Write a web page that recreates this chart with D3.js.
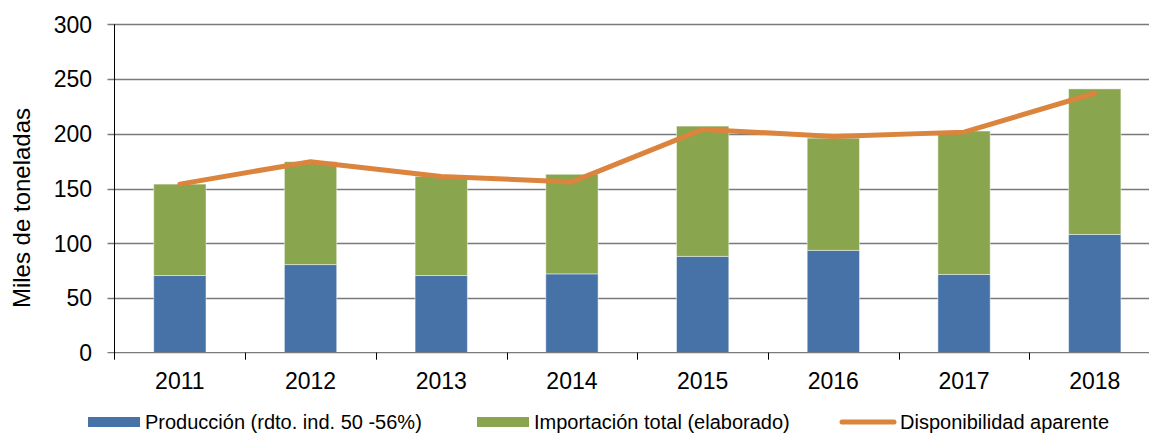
<!DOCTYPE html>
<html>
<head>
<meta charset="utf-8">
<script src="https://cdn.jsdelivr.net/npm/d3@7"></script>
<style>
	body { margin: 0; background: #fff; }
	text { font-family: "Liberation Sans", Arial, sans-serif; fill: #000; }
</style>
</head>
<body>
<svg id="chart" width="1149" height="435"></svg>
<script>
// 年（カテゴリ）
var years = ["2011", "2012", "2013", "2014", "2015", "2016", "2017", "2018"];
// 生産
var produccion = [70.5, 80.5, 70.5, 72, 88, 93.5, 71.5, 108];
// 輸入
var importacion = [83.5, 94, 90.5, 91, 119, 102.5, 131, 133];
// 見かけの供給量
var disponibilidad = [154, 174.5, 161, 156, 204, 197.5, 201.5, 237];
// 目盛り
var yTicks = [0, 50, 100, 150, 200, 250, 300];
var seriesNames = ["Producción (rdto. ind. 50 -56%)", "Importación total (elaborado)", "Disponibilidad aparente"];
var colors = ["#4672A8", "#89A54E", "#DB843D"];

var svg = d3.select("#chart");
var plotLeft = 114.5, plotTop = 24.3, plotW = 1045.6, plotH = 328.4;

var x = d3.scaleBand().domain(years).range([plotLeft, plotLeft + plotW]).paddingInner(0.6).paddingOuter(0.3);
var xb = d3.scaleBand().domain(years).range([plotLeft, plotLeft + plotW]);
var y = d3.scaleLinear().domain([0, 300]).range([plotTop + plotH, plotTop]);

// 横グリッド線
svg.append("g")
	.selectAll("line")
	.data(yTicks.slice(1))
	.enter()
	.append("line")
	.attr("x1", plotLeft - 7)
	.attr("x2", plotLeft + plotW)
	.attr("y1", function(d){ return Math.round(y(d)) + 0.5; })
	.attr("y2", function(d){ return Math.round(y(d)) + 0.5; })
	.attr("stroke", "#7a7a7a")
	.attr("stroke-width", 1.3);

// 積み上げ棒
var stackData = years.map(function(yr, i){
	return { year: yr, p: produccion[i], m: importacion[i] };
});
var stack = d3.stack().keys(["p", "m"])(stackData);

svg.append("g")
	.selectAll("g")
	.data(stack)
	.enter()
	.append("g")
	.attr("fill", function(d, i){ return colors[i]; })
	.selectAll("rect")
	.data(function(d){ return d; })
	.enter()
	.append("rect")
	.attr("x", function(d){ return x(d.data.year); })
	.attr("width", x.bandwidth())
	.attr("y", function(d){ return y(d[1]); })
	.attr("height", function(d){ return y(d[0]) - y(d[1]); })
	.attr("stroke", "rgba(255,255,255,0.45)")
	.attr("stroke-width", 1);

// 線グラフ
var line = d3.line()
	.x(function(d, i){ return x(years[i]) + x.bandwidth() / 2; })
	.y(function(d){ return y(d); });
svg.append("path")
	.datum(disponibilidad)
	.attr("d", line)
	.attr("fill", "none")
	.attr("stroke", colors[2])
	.attr("stroke-width", 5)
	.attr("stroke-linecap", "round")
	.attr("stroke-linejoin", "round");

// 軸線
svg.append("line")
	.attr("x1", plotLeft - 7).attr("x2", plotLeft + plotW)
	.attr("y1", y(0)).attr("y2", y(0))
	.attr("stroke", "#7a7a7a").attr("stroke-width", 1.3);
svg.append("line")
	.attr("x1", plotLeft).attr("x2", plotLeft)
	.attr("y1", plotTop).attr("y2", y(0) + 7)
	.attr("stroke", "#000").attr("stroke-width", 1);

// X軸の目盛り線
svg.append("g")
	.selectAll("line")
	.data(years.slice(1))
	.enter()
	.append("line")
	.attr("x1", function(d){ return Math.round(xb(d)) + 0.5; })
	.attr("x2", function(d){ return Math.round(xb(d)) + 0.5; })
	.attr("y1", y(0))
	.attr("y2", y(0) + 7)
	.attr("stroke", "#000");

// Y軸ラベル
svg.append("g")
	.selectAll("text")
	.data(yTicks)
	.enter()
	.append("text")
	.attr("x", 92)
	.attr("y", function(d){ return y(d); })
	.attr("dy", "0.36em")
	.attr("text-anchor", "end")
	.style("font-size", "23px")
	.text(function(d){ return d; });

// X軸ラベル
svg.append("g")
	.selectAll("text")
	.data(years)
	.enter()
	.append("text")
	.attr("x", function(d){ return x(d) + x.bandwidth() / 2; })
	.attr("y", 389)
	.attr("text-anchor", "middle")
	.style("font-size", "23px")
	.text(function(d){ return d; });

// 軸タイトル
svg.append("text")
	.attr("transform", "translate(30,208) rotate(-90)")
	.attr("text-anchor", "middle")
	.style("font-size", "24px")
	.text("Miles de toneladas");

// 凡例
var legendX = [88, 477, 840];
var lg = svg.append("g")
	.selectAll("g")
	.data(seriesNames)
	.enter()
	.append("g")
	.attr("transform", function(d, i){ return "translate(" + legendX[i] + ",422)"; });
lg.each(function(d, i){
	var g = d3.select(this);
	if (i < 2) {
		g.append("rect").attr("x", 0).attr("y", -5).attr("width", 52).attr("height", 10).attr("fill", colors[i]);
	} else {
		g.append("line").attr("x1", 2).attr("x2", 54).attr("y1", 0).attr("y2", 0)
			.attr("stroke", colors[i]).attr("stroke-width", 5).attr("stroke-linecap", "round");
	}
	g.append("text")
		.attr("x", i < 2 ? 57 : 60)
		.attr("y", 0)
		.attr("dy", "0.36em")
		.style("font-size", "20px")
		.text(d);
});
</script>
</body>
</html>
